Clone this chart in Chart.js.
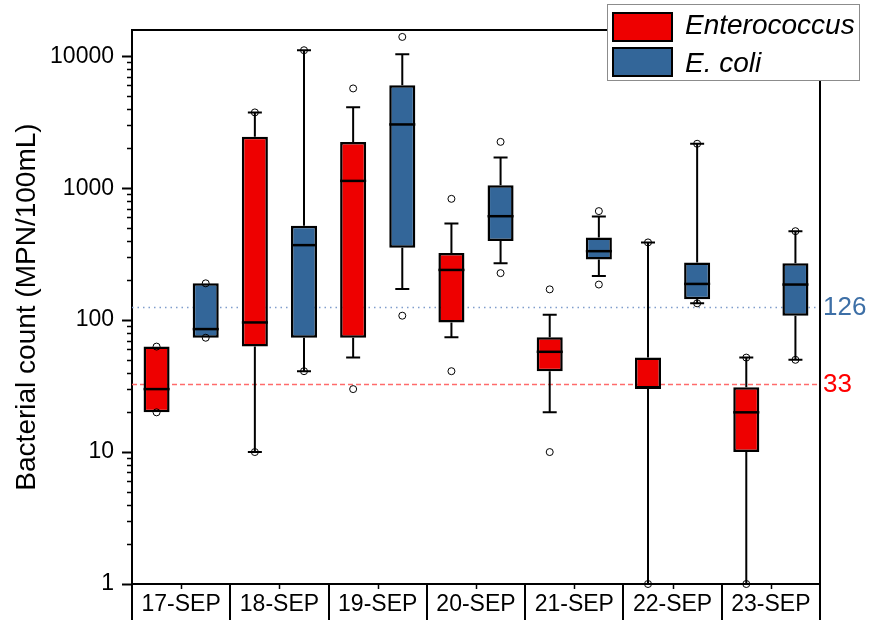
<!DOCTYPE html>
<html>
<head>
<meta charset="utf-8">
<script src="https://cdn.jsdelivr.net/npm/chart.js@4.4.1/dist/chart.umd.min.js"></script>
<style>
  html, body { margin: 0; padding: 0; background: #fff; }
</style>
</head>
<body>
<canvas id="chart" width="870" height="620"></canvas>
<script>
// sampling days
const categories = ['17-SEP', '18-SEP', '19-SEP', '20-SEP', '21-SEP', '22-SEP', '23-SEP'];

// Enterococcus box stats (MPN/100mL)
const entWhiskLow  = [20, 10, 52, 74, 20, 1, 1];
const entQ1        = [20, 63, 73.5, 96, 41, 30, 10];
const entMedian    = [30, 96, 1135, 240, 57.5, 31, 20];
const entQ3        = [63, 2450, 2240, 323, 74, 52, 31];
const entWhiskHigh = [63, 3750, 4100, 540, 110, 388, 52];
const entMin       = [20, 10, 30, 41, 10, 1, 1];
const entMax       = [63, 3750, 5700, 830, 171, 388, 52];

// E. coli box stats (MPN/100mL)
const ecoWhiskLow  = [73.5, 41, 172, 270, 216, 134, 50];
const ecoQ1        = [73.5, 73.5, 353, 397, 288, 144, 108];
const ecoMedian    = [85.5, 370, 3040, 613, 333, 188, 186];
const ecoQ3        = [190, 518, 6030, 1054, 423, 273, 270];
const ecoWhiskHigh = [190, 11100, 10350, 1708, 610, 2170, 472];
const ecoMin       = [73.5, 41, 108, 227, 186, 134, 50];
const ecoMax       = [190, 11100, 14000, 2243, 670, 2170, 472];

// y axis labels and guideline values
const yTickValues = [1, 10, 100, 1000, 10000];
const refValues = [126, 33];
const refColors = ['#3d6fa6', '#ff0000'];

const FONT = '"Liberation Sans", Arial, sans-serif';
Chart.defaults.font.family = FONT;
Chart.defaults.color = '#000';

const RED = '#ee0000';
const BLUE = '#336699';

function floating(q1, q3) {
  return q1.map((v, i) => [v, q3[i]]);
}

// whiskers, medians and min/max circles on top of the bars
const boxPlugin = {
  id: 'boxParts',
  beforeDatasetsDraw(chart) {
    const c = chart.ctx, a = chart.chartArea, y = chart.scales.y;
    c.save();
    refValues.forEach((v, i) => {
      const py = Math.round(y.getPixelForValue(v)) + 0.5;
      c.beginPath();
      c.strokeStyle = i === 0 ? '#7f9dcc' : '#ff6b6b';
      c.lineWidth = 1.5;
      c.setLineDash(i === 0 ? [1.5, 4] : [5, 3]);
      c.moveTo(a.left, py);
      c.lineTo(a.right, py);
      c.stroke();
    });
    c.restore();
  },
  afterDatasetsDraw(chart) {
    const c = chart.ctx, y = chart.scales.y;
    c.save();
    chart.data.datasets.forEach((ds, di) => {
      const meta = chart.getDatasetMeta(di);
      const s = ds.stats;
      meta.data.forEach((bar, i) => {
        const x = bar.x, w = bar.width;
        const pQ1 = y.getPixelForValue(s.q1[i]);
        const pQ3 = y.getPixelForValue(s.q3[i]);
        const pLo = y.getPixelForValue(s.lo[i]);
        const pHi = y.getPixelForValue(s.hi[i]);
        c.strokeStyle = '#000';
        c.lineWidth = 2;
        c.setLineDash([]);
        c.beginPath();
        if (s.hi[i] > s.q3[i]) {
          c.moveTo(x, pQ3); c.lineTo(x, pHi);
          c.moveTo(x - 7, pHi); c.lineTo(x + 7, pHi);
        }
        if (s.lo[i] < s.q1[i]) {
          c.moveTo(x, pQ1); c.lineTo(x, pLo);
          c.moveTo(x - 7, pLo); c.lineTo(x + 7, pLo);
        }
        c.stroke();
        const pMed = y.getPixelForValue(s.med[i]);
        c.lineWidth = 2.5;
        c.beginPath();
        c.moveTo(x - w / 2, pMed); c.lineTo(x + w / 2, pMed);
        c.stroke();

        c.lineWidth = 1;
        [s.min[i], s.max[i]].forEach(v => {
          c.beginPath();
          c.arc(x, y.getPixelForValue(v), 3.5, 0, Math.PI * 2);
          c.stroke();
        });
      });
    });
    c.restore();
  },
  afterDraw(chart) {
    const c = chart.ctx, a = chart.chartArea, xs = chart.scales.x, y = chart.scales.y;
    c.save();
    c.strokeStyle = '#000';
    // frame top and right
    c.lineWidth = 2;
    c.beginPath();
    c.moveTo(a.left, a.top); c.lineTo(a.right, a.top); c.lineTo(a.right, a.bottom);
    c.stroke();
    // category cells under the axis
    const step = (a.right - a.left) / categories.length;
    c.beginPath();
    for (let i = 0; i <= categories.length; i++) {
      const px = Math.round(a.left + i * step);
      c.moveTo(px, a.bottom); c.lineTo(px, chart.height);
    }
    c.stroke();
    c.lineWidth = 1;
    c.beginPath();
    categories.forEach((_, i) => {
      const px = Math.round(xs.getPixelForValue(i)) + 0.5;
      c.moveTo(px, a.bottom); c.lineTo(px, a.bottom + 5);
    });
    // minor log ticks
    for (let d = 1; d < 10000; d *= 10) {
      for (let k = 2; k <= 9; k++) {
        const py = Math.round(y.getPixelForValue(k * d)) + 0.5;
        c.moveTo(a.left - 5, py); c.lineTo(a.left, py);
      }
    }
    for (let k = 2; k <= 9; k++) {
      const v = k * 10000;
      if (v > y.max) break;
      const py = Math.round(y.getPixelForValue(v)) + 0.5;
      c.moveTo(a.left - 5, py); c.lineTo(a.left, py);
    }
    c.lineWidth = 1.5;
    c.stroke();

    // guideline labels
    c.font = '26px ' + FONT;
    c.textBaseline = 'middle';
    c.textAlign = 'left';
    refValues.forEach((v, i) => {
      c.fillStyle = refColors[i];
      c.fillText(String(v), a.right + 3, y.getPixelForValue(v) + 1);
    });

    // legend box
    c.fillStyle = '#fff';
    c.fillRect(607, 4, 252, 76);
    c.strokeStyle = '#8c8c8c';
    c.lineWidth = 1;
    c.strokeRect(607.5, 4.5, 252, 76);
    c.font = 'italic 28px ' + FONT;
    c.textBaseline = 'alphabetic';
    chart.data.datasets.forEach((ds, i) => {
      const top = 12 + i * 35;
      c.fillStyle = ds.backgroundColor;
      c.fillRect(612, top, 61, 30);
      c.strokeStyle = '#000';
      c.lineWidth = 2;
      c.strokeRect(613, top + 1, 59, 28);
      c.fillStyle = '#000';
      c.fillText(ds.label, 685, 34 + i * 38);
    });
    c.restore();
  }
};

const ctx = document.getElementById('chart');
new Chart(ctx, {
  type: 'bar',
  data: {
    labels: categories,
    datasets: [
      {
        label: 'Enterococcus',
        data: floating(entQ1, entQ3),
        backgroundColor: RED,
        borderColor: '#000',
        borderWidth: 2.5,
        borderSkipped: false,
        categoryPercentage: 1.0,
        barPercentage: 0.53,
        stats: { lo: entWhiskLow, q1: entQ1, med: entMedian, q3: entQ3, hi: entWhiskHigh, min: entMin, max: entMax }
      },
      {
        label: 'E. coli',
        data: floating(ecoQ1, ecoQ3),
        backgroundColor: BLUE,
        borderColor: '#000',
        borderWidth: 2.5,
        borderSkipped: false,
        categoryPercentage: 1.0,
        barPercentage: 0.53,
        stats: { lo: ecoWhiskLow, q1: ecoQ1, med: ecoMedian, q3: ecoQ3, hi: ecoWhiskHigh, min: ecoMin, max: ecoMax }
      }
    ]
  },
  options: {
    responsive: false,
    animation: false,
    devicePixelRatio: 1,
    layout: { padding: { top: 30, right: 50, left: 0, bottom: 0 } },
    plugins: {
      legend: { display: false },
      tooltip: { enabled: false }
    },
    scales: {
      x: {
        grid: { display: false, drawTicks: false },
        border: { color: '#000', width: 2 },
        ticks: { color: '#000', font: { size: 23 }, padding: 7, maxRotation: 0 },
        afterFit: s => { s.height = 36; }
      },
      y: {
        type: 'logarithmic',
        min: 1,
        max: 15800,
        afterBuildTicks: s => { s.ticks = yTickValues.map(v => ({ value: v })); },
        ticks: { color: '#000', font: { size: 23 }, padding: 8, callback: v => String(v) },
        grid: { drawOnChartArea: false, tickLength: 10, tickColor: '#000', tickWidth: 2 },
        border: { color: '#000', width: 2 },
        title: {
          display: true,
          text: 'Bacterial count (MPN/100mL)',
          color: '#000',
          font: { size: 28 },
          padding: { top: 10, bottom: 0 }
        },
        afterFit: s => { s.width = 132; }
      }
    }
  },
  plugins: [boxPlugin]
});
</script>
</body>
</html>
